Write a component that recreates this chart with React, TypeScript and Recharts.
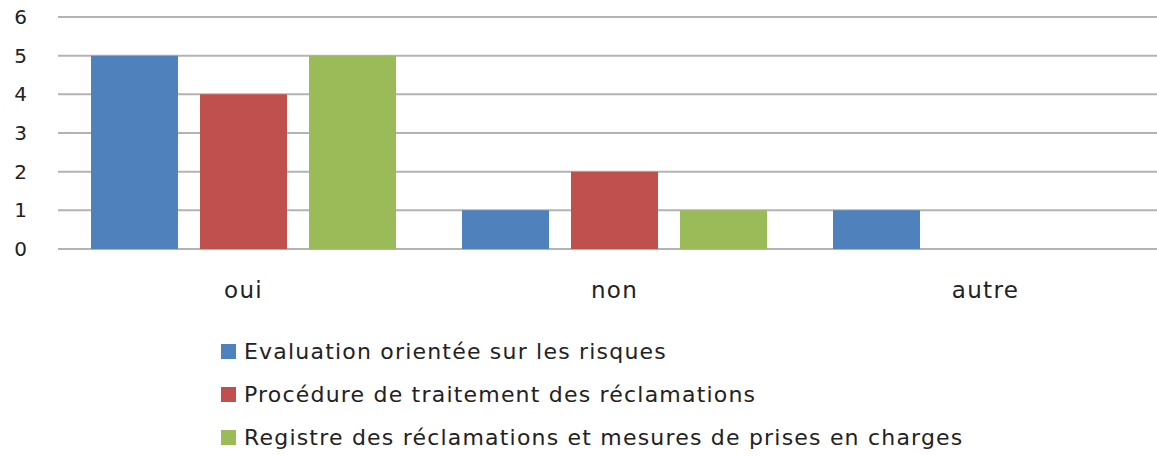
import { BarChart, Bar, XAxis, YAxis, CartesianGrid, Legend } from 'recharts';

const categories = ['oui', 'non', 'autre'];
const evaluationRisques = [5, 1, 1];
const traitementReclamations = [4, 2, 0];
const registreReclamations = [5, 1, 0];
const yTicks = [0, 1, 2, 3, 4, 5, 6];

const series = [
  { key: 'evaluation', name: 'Evaluation orientée sur les risques', color: '#4f81bd', values: evaluationRisques },
  { key: 'procedure', name: 'Procédure de traitement des réclamations', color: '#c0504d', values: traitementReclamations },
  { key: 'registre', name: 'Registre des réclamations et mesures de prises en charges', color: '#9bbb59', values: registreReclamations },
];

const data = categories.map((cat, i) => {
  const row: Record<string, string | number> = { cat };
  series.forEach((s) => {
    row[s.key] = s.values[i];
  });
  return row;
});

const font = '"DejaVu Sans", sans-serif';

function LegendBox() {
  return (
    <div style={{ fontFamily: font, fontSize: 22, color: '#222', letterSpacing: 1.2 }}>
      {series.map((s) => (
        <div key={s.key} style={{ display: 'flex', alignItems: 'center', height: 43 }}>
          <span style={{ width: 15, height: 15, background: s.color, marginRight: 8, display: 'inline-block' }} />
          <span>{s.name}</span>
        </div>
      ))}
    </div>
  );
}

export default function App() {
  return (
    <div style={{ position: 'absolute', left: 0, top: 0, width: 1157, height: 456, overflow: 'hidden', background: '#fff' }}>
      <BarChart
        width={1171}
        height={456}
        data={data}
        margin={{ top: 17, right: 0, left: 0, bottom: 17 }}
        barSize={87}
        barGap={22}
      >
        <CartesianGrid vertical={false} stroke="#b3b3b3" strokeWidth={2} />
        <XAxis
          dataKey="cat"
          axisLine={false}
          tickLine={false}
          tickSize={0}
          tickMargin={33}
          height={60}
          tick={{ fill: '#222', fontSize: 23, fontFamily: font, letterSpacing: 1.3 }}
        />
        <YAxis
          domain={[0, 6]}
          ticks={yTicks}
          axisLine={false}
          tickLine={false}
          tickSize={0}
          tickMargin={31}
          width={58}
          tick={{ fill: '#222', fontSize: 20, fontFamily: font }}
        />
        <Legend
          verticalAlign="bottom"
          align="center"
          layout="vertical"
          content={() => <LegendBox />}
          wrapperStyle={{ position: 'absolute', left: 221, top: 330, width: 936, height: 130 }}
        />
        {series.map((s) => (
          <Bar key={s.key} dataKey={s.key} name={s.name} fill={s.color} isAnimationActive={false} />
        ))}
      </BarChart>
    </div>
  );
}
